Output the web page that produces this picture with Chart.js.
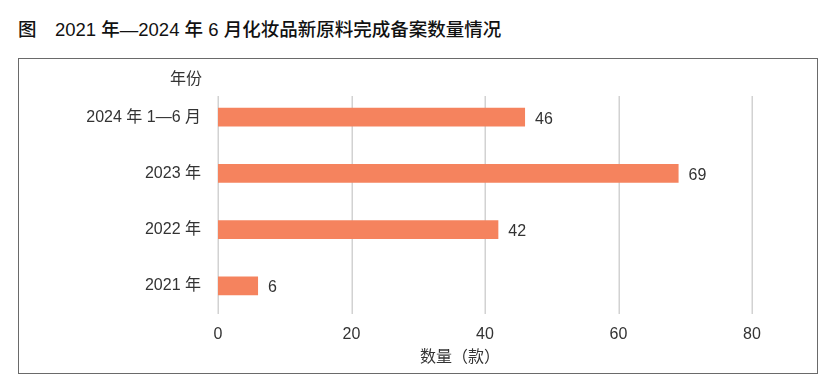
<!DOCTYPE html>
<html>
<head>
<meta charset="utf-8">
<script src="https://cdn.jsdelivr.net/npm/chart.js@4"></script>
<style>
  html, body { margin: 0; padding: 0; background: #fff; }
  body { width: 836px; height: 384px; position: relative; overflow: hidden;
         font-family: "Liberation Sans", "Noto Sans CJK SC", sans-serif; }
  .t { position: absolute; top: 15px; font-size: 18.5px; font-weight: 500;
       color: #111; white-space: pre; font-family: "Liberation Sans", "Noto Sans CJK SC", sans-serif; }
  #t1 { left: 18px; }
  #t2 { left: 55px; }
  #frame { position: absolute; left: 18px; top: 58px; width: 798px; height: 314px;
           border: 1.5px solid #6a6a6a; }
  #wrap { position: absolute; left: 0; top: 0; width: 798px; height: 314px; }
</style>
</head>
<body>
<div class="t" id="t1">图</div>
<div class="t" id="t2">2021 年—2024 年 6 月化妆品新原料完成备案数量情况</div>
<div id="frame"><div id="wrap"><canvas id="c"></canvas></div></div>
<script>
const categories = ['2024 年 1—6 月', '2023 年', '2022 年', '2021 年'];
const values = [46, 69, 42, 6];
const xTicks = [0, 20, 40, 60, 80];
const yAxisTitle = '年份';
const xAxisTitle = '数量（款）';

const FONT = '"Liberation Sans", "Noto Sans CJK SC", sans-serif';
const TEXT = '#333333';

const extras = {
  id: 'extras',
  beforeDatasetsDraw(chart) {
    const ctx = chart.ctx, xs = chart.scales.x, area = chart.chartArea;
    ctx.save();
    ctx.strokeStyle = '#d2d2d2';
    ctx.lineWidth = 1.5;
    xs.ticks.forEach((t, i) => {
      const x = Math.round(xs.getPixelForTick(i)) + 0.25;
      ctx.beginPath();
      ctx.moveTo(x, area.top + 7);
      ctx.lineTo(x, area.bottom);
      ctx.stroke();
    });
    ctx.restore();
  },
  afterDatasetsDraw(chart) {
    const ctx = chart.ctx;
    const meta = chart.getDatasetMeta(0);
    ctx.save();
    ctx.font = '16px ' + FONT;
    ctx.fillStyle = TEXT;
    ctx.textBaseline = 'middle';
    ctx.textAlign = 'left';
    meta.data.forEach((bar, i) => {
      ctx.fillText(String(values[i]), bar.x + 10, bar.y + 2);
    });
    ctx.textAlign = 'right';
    ctx.fillText(yAxisTitle, 183, 21);
    ctx.textAlign = 'center';
    ctx.fillText(xAxisTitle, 441, 299);
    ctx.restore();
  }
};

new Chart(document.getElementById('c'), {
  type: 'bar',
  data: {
    labels: categories,
    datasets: [{
      data: values,
      backgroundColor: '#F5835E',
      borderWidth: 0,
      barPercentage: 0.337,
      categoryPercentage: 1.0
    }]
  },
  options: {
    indexAxis: 'y',
    responsive: true,
    maintainAspectRatio: false,
    animation: false,
    layout: { padding: { left: 0, right: 65, top: 30, bottom: 0 } },
    plugins: { legend: { display: false }, tooltip: { enabled: false }, title: { display: false } },
    scales: {
      x: {
        min: 0, max: 80,
        afterBuildTicks(scale) { scale.ticks = xTicks.map(v => ({ value: v })); },
        afterFit(scale) { scale.height = 59; },
        grid: { display: false, drawTicks: false },
        border: { display: false },
        ticks: { color: TEXT, font: { family: FONT, size: 16 }, padding: 11 }
      },
      y: {
        afterFit(scale) { scale.width = 199; },
        grid: { display: false, drawTicks: false },
        border: { display: false },
        ticks: { color: TEXT, font: { family: FONT, size: 16 }, padding: 17 }
      }
    }
  },
  plugins: [extras]
});
</script>
</body>
</html>
